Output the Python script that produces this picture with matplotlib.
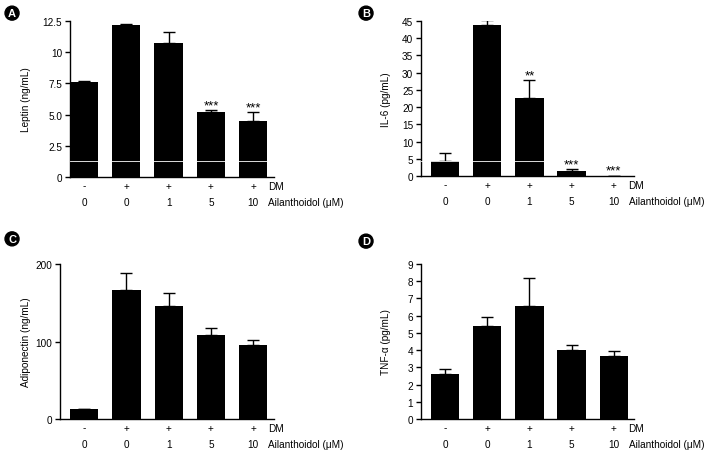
import numpy as np
import matplotlib.pyplot as plt

plt.rcParams['font.family'] = ['Liberation Sans', 'DejaVu Sans']
FontSize = 7.2
plt.rcParams['font.size'] = FontSize

dm_row = ['-', '+', '+', '+', '+']
ail_row = ['0', '0', '1', '5', '10']

leptin = [7.65, 12.15, 10.75, 5.2, 4.5]
leptin_err = [0.08, 0.08, 0.9, 0.15, 0.7]
leptin_sig = ['', '', '', '***', '***']

il6 = [4.3, 43.8, 22.5, 1.4, 0.0]
il6_err = [2.3, 1.5, 5.3, 0.6, 0.0]
il6_sig = ['', '', '**', '***', '***']

adipo = [12.5, 167, 146, 109, 96]
adipo_err = [0, 21, 16, 8.5, 6]
adipo_sig = ['', '', '', '', '']

tnf = [2.6, 5.42, 6.56, 4.03, 3.66]
tnf_err = [0.33, 0.48, 1.63, 0.29, 0.27]
tnf_sig = ['', '', '', '', '']

fig = plt.figure(figsize=(7.08, 4.56), dpi=100)


def panel(rect, vals, errs, sig, ylabel, yticks, yticklabels, ylim, xlim, labx, letter, lpos):
    ax = fig.add_axes(rect)
    x = np.arange(len(vals))
    ax.bar(x, vals, width=0.67, color='black', zorder=2)
    ax.errorbar(x, vals, yerr=[np.zeros(len(errs)), errs], fmt='none', ecolor='black',
                elinewidth=1, capsize=4, capthick=1, zorder=1)
    for i, s in enumerate(sig):
        if s:
            ax.annotate(s, (x[i], vals[i] + errs[i]), xytext=(0, 1.5), textcoords='offset points',
                        ha='center', va='baseline', fontsize=9.5, zorder=4)
    ax.set_xlim(*xlim)
    ax.set_ylim(*ylim)
    ax.set_yticks(yticks)
    ax.set_yticklabels(yticklabels)
    ax.set_xticks([])
    for sp in ['top', 'right']:
        ax.spines[sp].set_visible(False)
    ax.spines['left'].set_linewidth(1)
    ax.spines['bottom'].set_linewidth(1)
    ax.tick_params(axis='y', direction='out', length=3.5, width=1, labelsize=FontSize, pad=2)
    ax.set_ylabel(ylabel, fontsize=FontSize)
    ax.yaxis.set_label_coords(labx, 0.5)
    trans = ax.get_xaxis_transform()
    for i in range(len(vals)):
        ax.text(x[i], -0.055, dm_row[i], transform=trans, ha='center', va='center', fontsize=FontSize)
        ax.text(x[i], -0.163, ail_row[i], transform=trans, ha='center', va='center', fontsize=FontSize)
    ax.text(4.35, -0.055, 'DM', transform=trans, ha='left', va='center', fontsize=FontSize)
    ax.text(4.35, -0.163, 'Ailanthoidol (\u03bcM)', transform=trans, ha='left', va='center', fontsize=FontSize)
    fig.text(lpos[0], lpos[1], letter, color='white', fontweight='bold', fontsize=8,
             ha='center', va='center',
             bbox=dict(boxstyle='circle,pad=0.18', fc='black', ec='black'))
    return ax


axA = panel([0.0989, 0.6096, 0.2881, 0.3422], leptin, leptin_err, leptin_sig, 'Leptin (ng/mL)',
            [0, 2.5, 5, 7.5, 10, 12.5], ['0', '2.5', '5.0', '7.5', '10', '12.5'], (0, 12.5),
            (-0.33, 4.49), -0.19, 'A', (0.017, 0.969))
axA.axhline(1.3, xmin=0, xmax=1, color='white', lw=0.6, zorder=3)

axB = panel([0.5946, 0.6118, 0.3009, 0.3400], il6, il6_err, il6_sig, 'IL-6 (pg/mL)',
            np.arange(0, 50, 5), [str(v) for v in range(0, 50, 5)], (0, 45),
            (-0.57, 4.48), -0.14, 'B', (0.517, 0.969))
axB.axhline(4.4, xmin=0, xmax=1, color='white', lw=0.6, zorder=3)

axC = panel([0.0847, 0.0789, 0.3023, 0.3400], adipo, adipo_err, adipo_sig, 'Adiponectin (ng/mL)',
            [0, 100, 200], ['0', '100', '200'], (0, 200),
            (-0.57, 4.49), -0.135, 'C', (0.017, 0.474))

axD = panel([0.5946, 0.0789, 0.3009, 0.3400], tnf, tnf_err, tnf_sig, 'TNF-\u03b1 (pg/mL)',
            np.arange(0, 10), [str(v) for v in range(10)], (0, 9),
            (-0.57, 4.48), -0.14, 'D', (0.517, 0.469))

fig.savefig('out.png', dpi=100)
